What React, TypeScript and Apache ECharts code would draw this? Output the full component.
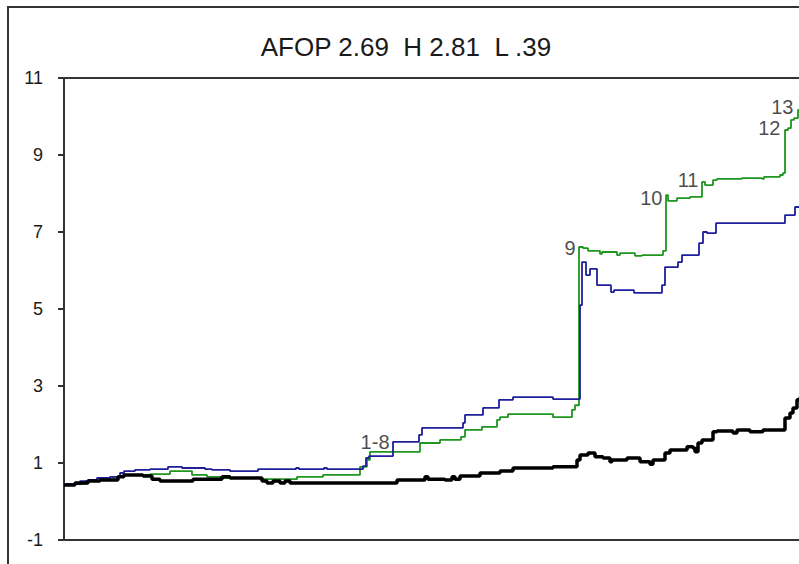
import React, { useEffect, useRef } from "react";
import * as echarts from "echarts";

// Heading shown above the plot
const TITLE = "AFOP 2.69  H 2.81  L .39";

// Value axis range and step
const Y_MIN = -1;
const Y_MAX = 11;
const Y_STEP = 2;
const DAY_MAX = 735;

// Green cumulative series (day index, level)
const greenDays = [
  0, 21, 36, 49, 59, 86, 106, 128, 143, 159, 196, 233, 259, 296, 303, 306,
  356, 376, 397, 401, 418, 433, 436, 444, 489, 508, 511, 515, 519, 524, 536,
  538, 553, 556, 571, 578, 599, 602, 604, 613, 626, 638, 641, 649, 653, 678,
  698, 700, 716, 719, 721, 724, 727, 730, 734, 736,
];
const greenValues = [
  0.45, 0.53, 0.58, 0.64, 0.69, 0.71, 0.79, 0.69, 0.64, 0.61, 0.58, 0.64,
  0.69, 0.9, 1.08, 1.29, 1.52, 1.6, 1.68, 1.86, 1.94, 2.12, 2.19, 2.27, 2.19,
  2.38, 2.5, 6.61, 6.58, 6.51, 6.43, 6.48, 6.4, 6.45, 6.38, 6.4, 6.51, 7.96,
  7.81, 7.88, 7.91, 8.3, 8.22, 8.35, 8.38, 8.4, 8.38, 8.43, 8.48, 8.53, 9.65,
  9.7, 9.91, 9.96, 10.17, 10.3,
];

// Blue cumulative series (day index, level)
const blueDays = [
  0, 16, 24, 33, 46, 56, 60, 71, 86, 104, 118, 141, 148, 166, 194, 232, 235,
  260, 263, 299, 302, 305, 329, 355, 358, 399, 401, 419, 435, 449, 489, 516,
  518, 522, 526, 533, 547, 550, 570, 598, 601, 614, 618, 635, 639, 643, 652,
  721, 731, 736,
];
const blueValues = [
  0.45, 0.53, 0.56, 0.61, 0.64, 0.74, 0.79, 0.82, 0.84, 0.9, 0.87, 0.84, 0.82,
  0.79, 0.84, 0.87, 0.84, 0.87, 0.84, 0.92, 1.13, 1.18, 1.55, 1.73, 1.91,
  2.04, 2.25, 2.43, 2.64, 2.71, 2.66, 5.1, 6.22, 5.88, 6.04, 5.62, 5.44, 5.49,
  5.42, 5.62, 6.09, 6.22, 6.4, 6.71, 7.0, 6.97, 7.23, 7.44, 7.65, 7.7,
];

// Black benchmark series (day index, level)
const blackDays = [
  0, 11, 24, 36, 54, 60, 79, 88, 96, 129, 158, 166, 198, 203, 209, 216, 221,
  226, 233, 333, 361, 364, 381, 388, 391, 396, 416, 436, 449, 489, 513, 516,
  524, 531, 539, 546, 548, 563, 576, 586, 589, 601, 606, 623, 629, 631, 634,
  638, 649, 653, 669, 673, 686, 699, 719, 721, 726, 729, 733, 736,
];
const blackValues = [
  0.43, 0.48, 0.53, 0.56, 0.64, 0.69, 0.66, 0.58, 0.53, 0.58, 0.64, 0.61,
  0.53, 0.48, 0.53, 0.48, 0.53, 0.48, 0.48, 0.56, 0.64, 0.58, 0.56, 0.64,
  0.58, 0.66, 0.74, 0.79, 0.87, 0.9, 1.08, 1.21, 1.26, 1.16, 1.13, 1.03, 1.08,
  1.13, 1.03, 0.97, 1.08, 1.26, 1.34, 1.42, 1.39, 1.29, 1.52, 1.6, 1.81, 1.83,
  1.78, 1.86, 1.81, 1.86, 1.86, 2.17, 2.3, 2.43, 2.64, 2.71,
];

// Step annotations along the upper curves
const noteLabels = ["1-8", "9", "10", "11", "12", "13"];
const noteDays = [327, 513, 600, 636, 718, 731];
const noteValues = [1.55, 6.58, 7.88, 8.35, 9.7, 10.25];

const FONT = 'Arial, "Liberation Sans", sans-serif';
const INK = "#1a1a1a";
const FRAME = "#333333";

const pairs = (xs: number[], ys: number[]) => xs.map((x, i) => [x, ys[i]]);

const frameLine = { show: true, onZero: false, lineStyle: { color: FRAME, width: 2 } };

export default function App() {
  const ref = useRef<HTMLDivElement>(null);

  useEffect(() => {
    if (!ref.current) return;
    const chart = echarts.init(ref.current, undefined, { renderer: "svg" });

    const option = {
      animation: false,
      textStyle: { fontFamily: FONT },
      title: {
        text: TITLE,
        left: 406,
        top: 34,
        textAlign: "center",
        padding: 0,
        textStyle: { fontSize: 26, fontWeight: "normal", color: INK, fontFamily: FONT },
      },
      graphic: [
        {
          type: "rect",
          silent: true,
          z: -1,
          shape: { x: 8, y: 7, width: 1200, height: 1200 },
          style: { fill: "none", stroke: FRAME, lineWidth: 2 },
        },
      ],
      grid: {
        left: 64,
        right: 0,
        top: 78,
        bottom: 24,
        show: false,
      },
      xAxis: [
        {
          type: "value",
          min: 0,
          max: DAY_MAX,
          position: "bottom",
          axisLine: frameLine,
          axisTick: { show: false },
          axisLabel: { show: false },
          splitLine: { show: false },
        },
        {
          type: "value",
          min: 0,
          max: DAY_MAX,
          position: "top",
          axisLine: frameLine,
          axisTick: { show: false },
          axisLabel: { show: false },
          splitLine: { show: false },
        },
      ],
      yAxis: {
        type: "value",
        min: Y_MIN,
        max: Y_MAX,
        interval: Y_STEP,
        axisLine: frameLine,
        axisTick: { show: true, length: 6, lineStyle: { color: FRAME, width: 2 } },
        axisLabel: { fontSize: 18, color: INK, margin: 21, fontFamily: FONT },
        splitLine: { show: false },
      },
      series: [
        {
          type: "line",
          step: "end",
          symbol: "none",
          data: pairs(greenDays, greenValues),
          lineStyle: { color: "#1f961f", width: 1.8 },
        },
        {
          type: "line",
          step: "end",
          symbol: "none",
          data: pairs(blueDays, blueValues),
          lineStyle: { color: "#1f1f9c", width: 1.8 },
        },
        {
          type: "line",
          step: "end",
          symbol: "none",
          data: pairs(blackDays, blackValues),
          lineStyle: { color: "#000000", width: 3.5 },
        },
        {
          type: "scatter",
          symbolSize: 1,
          itemStyle: { color: "rgba(0,0,0,0)" },
          data: noteDays.map((d, i) => ({ name: noteLabels[i], value: [d, noteValues[i]] })),
          label: {
            show: true,
            position: "left",
            distance: 1,
            formatter: "{b}",
            fontSize: 20,
            color: INK,
            fontFamily: FONT,
          },
        },
      ],
    };

    chart.setOption(option);
    return () => chart.dispose();
  }, []);

  return (
    <div
      ref={ref}
      style={{ position: "fixed", left: 0, top: 0, width: 799, height: 564, background: "#fff" }}
    />
  );
}
